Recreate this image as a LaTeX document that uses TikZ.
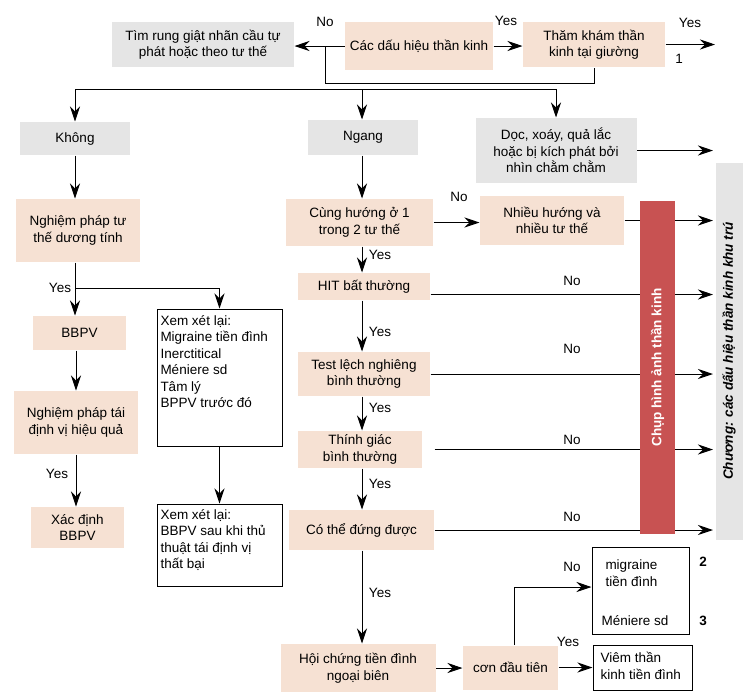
\documentclass[tikz,border=0pt]{standalone}
\usepackage{fontspec}
\setmainfont{Liberation Sans}
\usetikzlibrary{arrows.meta}
\definecolor{peach}{RGB}{246,225,211}
\definecolor{greybox}{RGB}{229,229,229}
\definecolor{redbar}{RGB}{200,82,82}

\tikzset{
  pbox/.style={fill=peach, align=center, inner sep=0pt},
  gbox/.style={fill=greybox, align=center, inner sep=0pt},
  wbox/.style={draw, inner sep=0pt},
  lbl/.style={inner sep=0pt},
  arr/.style={-{Stealth[length=15pt,width=10pt,inset=5pt]}}
}

\begin{document}
\begin{tikzpicture}[x=1pt,y=-1pt,font=\fontsize{13.5}{16.5}\selectfont,line width=1pt]
\useasboundingbox (0,0) rectangle (748,697);

\node[gbox, minimum width=182, minimum height=45] (tim) at (203,44.5) {Tìm rung giật nhãn cầu tự\\phát hoặc theo tư thế};
\node[pbox, minimum width=148, minimum height=48] (cac) at (419,46) {Các dấu hiệu thần kinh};
\node[pbox, minimum width=142, minimum height=45] (tham) at (594,44.5) {Thăm khám thần\\kinh tại giường};

\node[gbox, minimum width=110, minimum height=33] (khong) at (75,138.5) {Không};
\node[gbox, minimum width=110, minimum height=35] (ngang) at (363,137.5) {Ngang};
\node[gbox, minimum width=161, minimum height=65] (doc) at (556,150.5) {Dọc, xoáy, quả lắc\\hoặc bị kích phát bởi\\nhìn chằm chằm};

\node[pbox, minimum width=124, minimum height=63] (nghiem) at (78,230.5) {Nghiệm pháp tư\\thế dương tính};
\node[pbox, minimum width=93, minimum height=34] (bbpv) at (79.5,333) {BBPV};
\node[pbox, minimum width=124, minimum height=63] (taidv) at (76,422.5) {Nghiệm pháp tái\\định vị hiệu quả};
\node[pbox, minimum width=93, minimum height=41] (xacdinh) at (77.5,527.5) {Xác định\\BBPV};
\node[wbox, minimum width=125, minimum height=137] (xem1) at (219.5,377.5) {};
\node[lbl, anchor=north west, align=left] (xem1t) at (160,315) {Xem xét lại:\\Migraine tiền đình\\Inerctitical\\Méniere sd\\Tâm lý\\BPPV trước đó};
\node[wbox, minimum width=125, minimum height=82] (xem2) at (219.5,545) {};
\node[lbl, anchor=north west, align=left] (xem2t) at (160,509) {Xem xét lại:\\BBPV sau khi thủ\\thuật tái định vị\\thất bại};

\node[pbox, minimum width=147, minimum height=47] (cung) at (359.5,222.5) {Cùng hướng ở 1\\trong 2 tư thế};
\node[pbox, minimum width=144, minimum height=49] (nhieu) at (552,220.5) {Nhiều hướng và\\nhiều tư thế};
\node[pbox, minimum width=132, minimum height=27] (hit) at (364,286.5) {HIT bất thường};
\node[pbox, minimum width=132, minimum height=44] (test) at (364,374) {Test lệch nghiêng\\bình thường};
\node[pbox, minimum width=124, minimum height=37] (thinh) at (360,449.5) {Thính giác\\bình thường};
\node[pbox, minimum width=145, minimum height=40] (dung) at (361.5,530) {Có thể đứng được};
\node[pbox, minimum width=155, minimum height=48] (hoi) at (358,668) {Hội chứng tiền đình\\ngoại biên};
\node[pbox, minimum width=95, minimum height=44] (con) at (510.5,667.5) {cơn đầu tiên};

\node[wbox, minimum width=97, minimum height=87] (mig) at (640.5,590.5) {};
\node[lbl, anchor=west, align=left] (migt) at (605,573) {migraine\\tiền đình};
\node[lbl, anchor=west] (mens) at (601,621) {Méniere sd};
\node[wbox, minimum width=99, minimum height=45] (vie) at (642.5,667.5) {};
\node[lbl, anchor=west, align=left] (viet) at (600,666) {Viêm thần\\kinh tiền đình};

% labels
\node[lbl] (no0) at (325,22) {No};
\node[lbl] (yes0) at (506,21) {Yes};
\node[lbl] (yes1) at (690,23) {Yes};
\node[lbl] (one) at (679,59) {1};
\node[lbl] (no1) at (459,197) {No};
\node[lbl] (yes2) at (60,288) {Yes};
\node[lbl] (yes3) at (57,474) {Yes};
\node[lbl] (yes4) at (380,255) {Yes};
\node[lbl] (yes5) at (380,332) {Yes};
\node[lbl] (yes6) at (380,408) {Yes};
\node[lbl] (yes7) at (380,484) {Yes};
\node[lbl] (yes8) at (380,593) {Yes};
\node[lbl] (no2) at (572,281) {No};
\node[lbl] (no3) at (572,349) {No};
\node[lbl] (no4) at (572,440) {No};
\node[lbl] (no5) at (572,517) {No};
\node[lbl] (no6) at (572,567) {No};
\node[lbl] (yes9) at (568,642) {Yes};
\node[lbl, font=\fontsize{13.5}{16.5}\selectfont\bfseries] (two) at (703,562) {2};
\node[lbl, font=\fontsize{13.5}{16.5}\selectfont\bfseries] (three) at (703,621) {3};

% top connectors
\coordinate (j1) at (325,46);
\coordinate (bus) at (0,89);
\coordinate (rx) at (713,0);
\coordinate (vx) at (362,0);
\draw[arr] (cac.west) -- (cac.west -| tim.east);
\draw[arr] (cac.east) -- (cac.east -| tham.west);
\draw[arr] (tham.east) -- (tham.east -| 715,0);
\draw (j1) -- ++(0,37) -| (tham.south);
\draw (bus -| khong.north) -- (bus -| doc.north);
\draw[arr] (bus -| khong.north) -- (khong.north);
\draw[arr] (bus -| vx) -- (ngang.north -| vx);
\draw[arr] (bus -| doc.north) -- (doc.north);
\draw[arr] (doc.east) -- (doc.east -| rx);

% left column
\coordinate (j2) at (75,288);
\draw[arr] (khong.south) -- (khong.south |- nghiem.north);
\draw (nghiem.south -| j2) -- (j2);
\draw[arr] (j2) -- (j2 |- bbpv.north);
\draw[arr] (j2) -| (xem1.north);
\draw[arr] (bbpv.south -| taidv) -- (taidv.north);
\draw[arr] (taidv.south) -- (taidv.south |- xacdinh.north);
\draw[arr] (xem1) -- (xem2);

% middle column
\draw[arr] (ngang.south -| vx) -- (cung.north -| vx);
\draw[arr] (cung.east) -- (cung.east -| nhieu.west);
\draw[arr] (nhieu.east) -- (nhieu.east -| rx);
\draw[arr] (cung.south -| vx) -- (hit.north -| vx);
\draw[arr] (hit.south -| vx) -- (test.north -| vx);
\draw[arr] (test.south -| vx) -- (thinh.north -| vx);
\draw[arr] (thinh.south -| vx) -- (dung.north -| vx);
\draw[arr] (dung.south -| vx) -- (hoi.north -| vx);
\draw[arr] ([yshift=-8pt]hit.east) -- ([yshift=-8pt]hit.east -| rx);
\draw[arr] (test.east) -- (test.east -| rx);
\draw[arr] (thinh.east -| dung.east) -- (thinh.east -| rx);
\draw[arr] (dung.east) -- (dung.east -| rx);

% bottom
\coordinate (k1) at (514,587);
\draw[arr] (hoi.east) -- (hoi.east -| con.west);
\draw[arr] (con.east) -- (con.east -| vie.west);
\draw[arr] (con.north -| k1) |- (mig.west |- k1);

% bars on top
\node[fill=redbar, rotate=90, minimum width=333, minimum height=35, inner sep=0pt, text=white, font=\fontsize{13.5}{16.5}\selectfont\bfseries] (imaging) at (657.5,367.5) {Chụp hình ảnh thần kinh};
\node[fill=greybox, rotate=90, minimum width=377, minimum height=27, inner sep=0pt, font=\fontsize{13.5}{16.5}\selectfont\bfseries\itshape] (chapter) at (729,351) {Chương: các dấu hiệu thần kinh khu trú};
\end{tikzpicture}
\end{document}
